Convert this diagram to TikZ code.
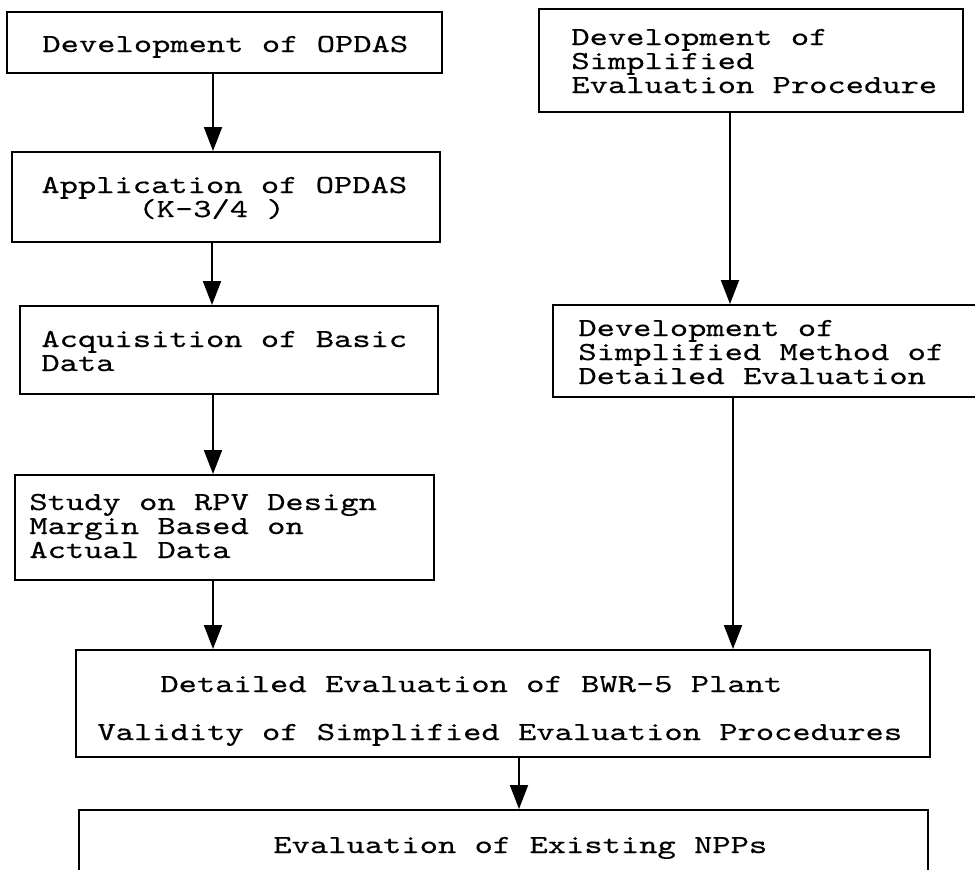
\documentclass[tikz,border=0pt]{standalone}
\usepackage{fontspec}
\newfontfamily\cour[FakeStretch=1.34,FakeBold=0.4]{lmmono10-regular.otf}
\newcommand\boxfont{\cour\fontsize{13pt}{12pt}\selectfont\setlength{\lineskiplimit}{-100pt}\relax}
\usetikzlibrary{fit,arrows.meta}
\begin{document}
\begin{tikzpicture}[x=0.5pt,y=-0.5pt,
  box/.style={draw=black,line width=1pt,inner sep=0pt},
  txt/.style={inner sep=0pt,anchor=base west,align=left,font=\boxfont},
  arr/.style={line width=1pt,-{Triangle[width=9pt,length=12pt]}}]
\clip (0,0) rectangle (975,869);
\fill[white] (0,0) rectangle (975,869);
% boxes
\node[box,fit={(7,12) (442,73)}] (A) {};
\node[box,fit={(12,152) (440,242)}] (B) {};
\node[box,fit={(20,306) (438,394)}] (C) {};
\node[box,fit={(15,475) (434,580)}] (D) {};
\node[box,fit={(539,9) (963,112)}] (E) {};
\node[box,fit={(553,305) (990,397)}] (F) {};
\node[box,fit={(76,650) (930,757)}] (G) {};
\node[box,fit={(79,810) (928,900)}] (H) {};
% texts (multi-line nodes anchored at the baseline of their last line)
\node[txt] (tA) at (42,52) {Development of OPDAS};
\node[txt] (tB1) at (41,193) {Application of OPDAS};
\node[txt] (tB2) at (138,217) {(K-3/4 )};
\node[txt] (tC) at (41,371) {Acquisition of Basic\\Data};
\node[txt] (tD) at (29,558) {Study on RPV Design\\Margin Based on\\Actual Data};
\node[txt] (tE) at (571,93) {Development of\\Simplified\\Evaluation Procedure};
\node[txt] (tF) at (578,384) {Development of\\Simplified Method of\\Detailed Evaluation};
\node[txt] (tG1) at (160,692) {Detailed Evaluation of BWR-5 Plant};
\node[txt] (tG2) at (97,740) {Validity of Simplified Evaluation Procedures};
\node[txt] (tH) at (273,853) {Evaluation of Existing NPPs};
% arrow x positions
\coordinate (x1) at (213,0);
\coordinate (x2) at (212,0);
\coordinate (x3) at (730,0);
\coordinate (x4) at (733,0);
\coordinate (x5) at (519,0);
% connectors
\draw[arr] (A.south -| x1) -- (B.north -| x1);
\draw[arr] (B.south -| x2) -- (C.north -| x2);
\draw[arr] (C.south -| x1) -- (D.north -| x1);
\draw[arr] (D.south -| x1) -- (G.north -| x1);
\draw[arr] (E.south -| x3) -- (F.north -| x3);
\draw[arr] (F.south -| x4) -- (G.north -| x4);
\draw[arr] (G.south -| x5) -- (H.north -| x5);
\end{tikzpicture}
\end{document}
